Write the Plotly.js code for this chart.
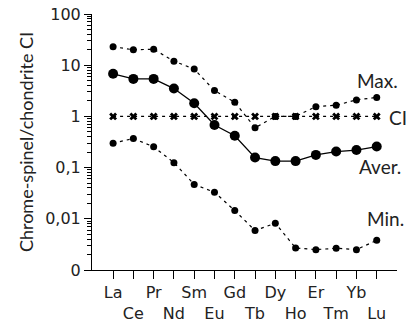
<!DOCTYPE html>
<html>
<head>
<meta charset="utf-8">
<script src="https://cdn.plot.ly/plotly-3.0.1.min.js"></script>
<style>html,body{margin:0;padding:0;background:#fff;}#chart{width:410px;height:331px;}</style>
</head>
<body>
<div id="chart"></div>
<script>
const elements = ["La","Ce","Pr","Nd","Sm","Eu","Gd","Tb","Dy","Ho","Er","Tm","Yb","Lu"];
const maxValues = [23, 20, 20.5, 12, 8.4, 3.2, 1.9, 0.6, 1.0, 1.0, 1.55, 1.65, 2.1, 2.35];
const averValues = [6.8, 5.4, 5.4, 3.5, 1.8, 0.68, 0.42, 0.157, 0.134, 0.134, 0.177, 0.206, 0.22, 0.258];
const minValues = [0.3, 0.37, 0.255, 0.125, 0.047, 0.033, 0.0145, 0.0059, 0.0082, 0.0027, 0.0025, 0.00266, 0.0025, 0.0038];
const ciValues = [1,1,1,1,1,1,1,1,1,1,1,1,1,1];
const yTickVals = [0.001, 0.01, 0.1, 1, 10, 100];
const yTickText = ["0", "0,01", "0,1", "1", "10", "100"];

const idx = elements.map((_, i) => i);
const xTickText = elements.map((e, i) => i % 2 === 0 ? e : "<br>" + e);

const traces = [
  {x: idx, y: maxValues, mode: "lines+markers", line: {color: "#000", width: 1.2, dash: "3px,4px"}, marker: {color: "#000", size: 7}},
  {x: idx, y: ciValues, mode: "lines+markers", line: {color: "#000", width: 1.2, dash: "3px,4px"}, marker: {color: "#000", size: 7, symbol: "x"}},
  {x: idx, y: averValues, mode: "lines+markers", line: {color: "#000", width: 1.3}, marker: {color: "#000", size: 10}},
  {x: idx, y: minValues, mode: "lines+markers", line: {color: "#000", width: 1.2, dash: "3px,4px"}, marker: {color: "#000", size: 7}}
];

const annFont = {family: "Lato, 'Open Sans', sans-serif", size: 19, color: "#222"};
const ann = (text, x, y, xanchor) => ({text, xref: "paper", yref: "paper", x, y, xanchor: xanchor || "center", yanchor: "middle", showarrow: false, font: annFont});
const layout = {
  width: 410, height: 331,
  margin: {l: 92, r: 13, t: 14, b: 61},
  showlegend: false,
  paper_bgcolor: "#fff", plot_bgcolor: "#fff",
  xaxis: {
    range: [-1.04, 14.0], tickvals: idx, ticktext: xTickText, tickangle: 0, automargin: false,
    showgrid: false, zeroline: false, showline: true, linecolor: "#000", linewidth: 1,
    ticks: "outside", ticklen: 8, tickcolor: "#000", tickwidth: 1,
    tickfont: {family: "DejaVu Sans, sans-serif", size: 16, color: "#222"}
  },
  yaxis: {
    type: "log", range: [-3, 2], tickvals: yTickVals, ticktext: yTickText, automargin: false,
    showgrid: false, zeroline: false, showline: true, linecolor: "#000", linewidth: 1,
    ticks: "outside", ticklen: 7, tickcolor: "#000", tickwidth: 1,
    tickfont: {family: "DejaVu Sans, sans-serif", size: 16, color: "#222"},
    minor: {ticks: "outside", ticklen: 4, tickcolor: "#000", tickwidth: 1, dtick: "D1", showgrid: false},
    title: {text: "Chrome-spinel/chondrite CI", font: {family: "Lato, 'Open Sans', sans-serif", size: 18, color: "#222"}, standoff: 6}
  },
  annotations: [
    ann("Max.", 0.936, 0.742),
    ann("CI", 0.966, 0.596, "left"),
    ann("Aver.", 0.944, 0.406),
    ann("Min.", 0.961, 0.203)
  ]
};

Plotly.newPlot("chart", traces, layout, {displayModeBar: false, staticPlot: true});
</script>
</body>
</html>
